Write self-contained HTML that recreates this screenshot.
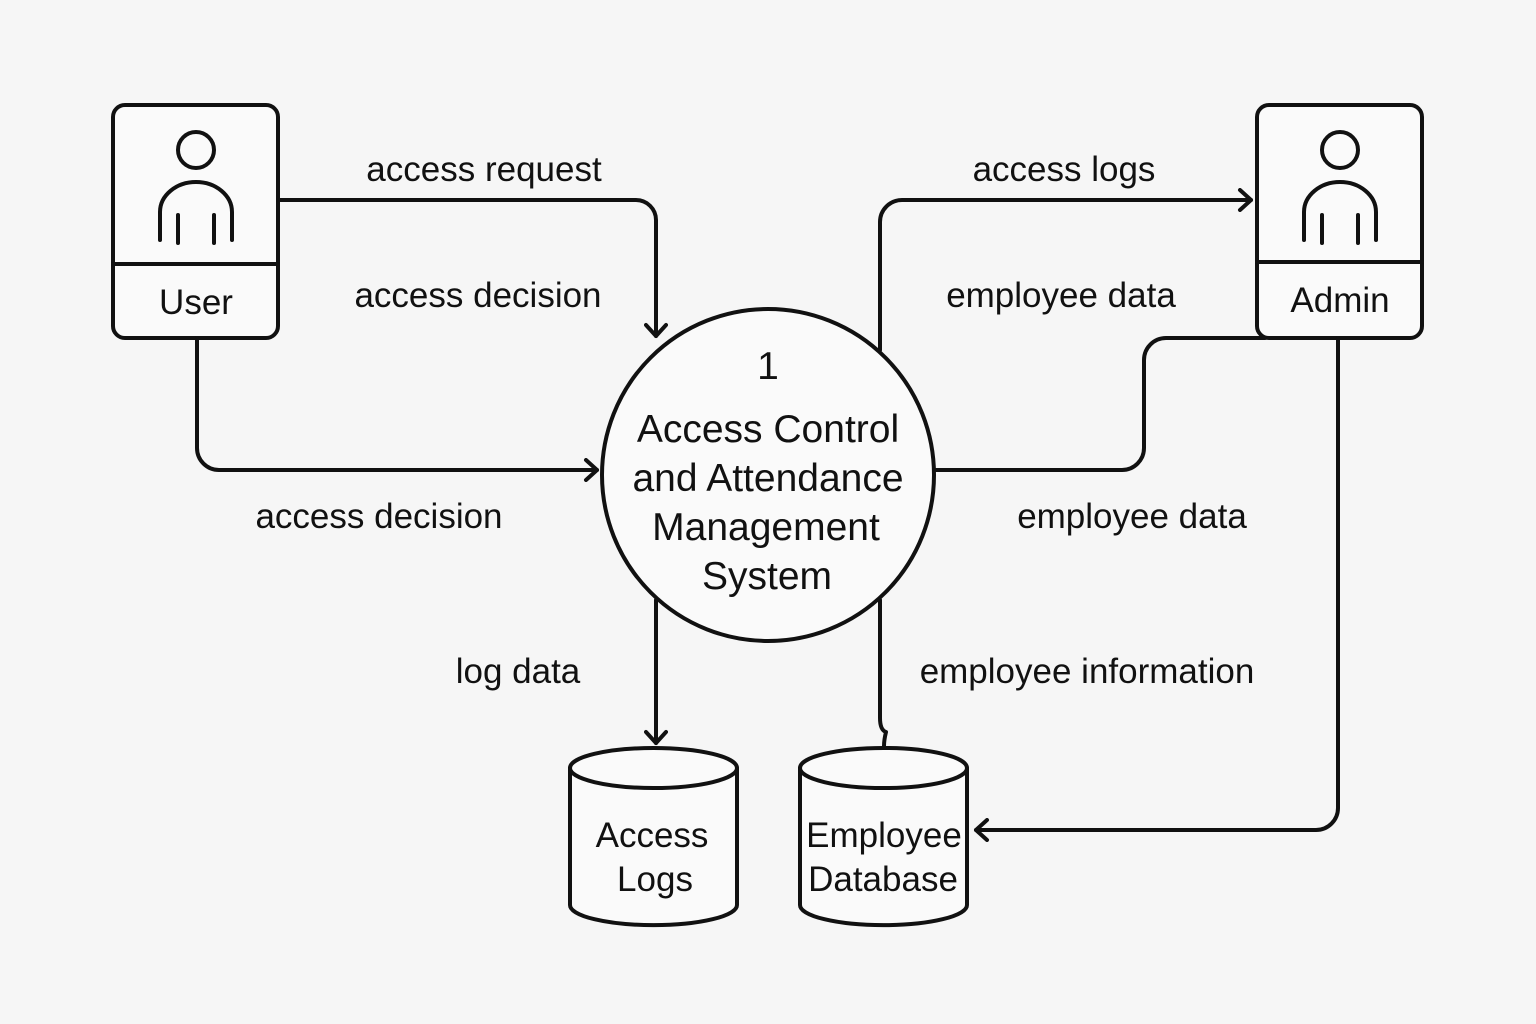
<!DOCTYPE html>
<html><head><meta charset="utf-8"><style>
html,body{margin:0;padding:0;background:#f6f6f6}
svg{display:block}
text{font-family:"Liberation Sans",sans-serif;fill:#111}
</style></head><body>
<svg width="1536" height="1024" viewBox="0 0 1536 1024" xmlns="http://www.w3.org/2000/svg">
<rect width="1536" height="1024" fill="#f6f6f6"/>
<defs><marker id="a" markerWidth="20" markerHeight="24" refX="14" refY="12" orient="auto" markerUnits="userSpaceOnUse"><path d="M3,2 L14,12 L3,22" fill="none" stroke="#111" stroke-width="4" stroke-linecap="round" stroke-linejoin="round"/></marker></defs>
<g fill="none" stroke="#111" stroke-width="4" stroke-linecap="round" stroke-linejoin="round">
<rect x="113" y="105" width="165" height="233" rx="12" fill="#fafafa"/>
<line x1="113" y1="264" x2="278" y2="264"/>
<circle cx="196" cy="150" r="18"/>
<path d="M160,240 V212 a36,30 0 0 1 72,0 V240"/>
<line x1="178" y1="215" x2="178" y2="243"/><line x1="214" y1="215" x2="214" y2="243"/>
<rect x="1257" y="105" width="165" height="233" rx="12" fill="#fafafa"/>
<line x1="1257" y1="262" x2="1422" y2="262"/>
<circle cx="1340" cy="150" r="18"/>
<path d="M1304,240 V212 a36,30 0 0 1 72,0 V240"/>
<line x1="1322" y1="215" x2="1322" y2="243"/><line x1="1358" y1="215" x2="1358" y2="243"/>
<circle cx="768" cy="475" r="166" fill="#fafafa"/>
<path d="M278,200 H636 a20,20 0 0 1 20,20 V336" marker-end="url(#a)"/>
<path d="M197,338 V448 a22,22 0 0 0 22,22 H597" marker-end="url(#a)"/>
<path d="M880,350 V222 a22,22 0 0 1 22,-22 H1251" marker-end="url(#a)"/>
<path d="M934,470 H1122 a22,22 0 0 0 22,-22 V360 a22,22 0 0 1 22,-22 H1265"/>
<path d="M1338,338 V808 a22,22 0 0 1 -22,22 H976" marker-end="url(#a)"/>
<path d="M656,600 V743" marker-end="url(#a)"/>
<path d="M880,600 V718 q0,12 6,14 q-2,8 -2,14"/>
<path d="M570,768 V905 a83,20 0 0 0 167,0 V768" fill="#fafafa"/>
<ellipse cx="653.5" cy="768" rx="83.5" ry="20" fill="#fafafa"/>
<path d="M800,768 V905 a83,20 0 0 0 167,0 V768" fill="#fafafa"/>
<ellipse cx="883.5" cy="768" rx="83.5" ry="20" fill="#fafafa"/>
</g>
<g font-size="35" text-anchor="middle">
<text x="196" y="314">User</text>
<text x="1340" y="312">Admin</text>
<text x="484" y="181">access request</text>
<text x="478" y="307">access decision</text>
<text x="379" y="528">access decision</text>
<text x="1064" y="181">access logs</text>
<text x="1061" y="307">employee data</text>
<text x="1132" y="528">employee data</text>
<text x="518" y="683">log data</text>
<text x="1087" y="683">employee information</text>
</g>
<g font-size="39" text-anchor="middle">
<text x="768" y="379">1</text>
<text x="768" y="442">Access Control</text>
<text x="768" y="491">and Attendance</text>
<text x="766" y="540">Management</text>
<text x="767" y="589">System</text>
</g>
<g font-size="35" text-anchor="middle">
<text x="652" y="847">Access</text>
<text x="655" y="891">Logs</text>
<text x="884" y="847">Employee</text>
<text x="883" y="891">Database</text>
</g>
</svg>
</body></html>
